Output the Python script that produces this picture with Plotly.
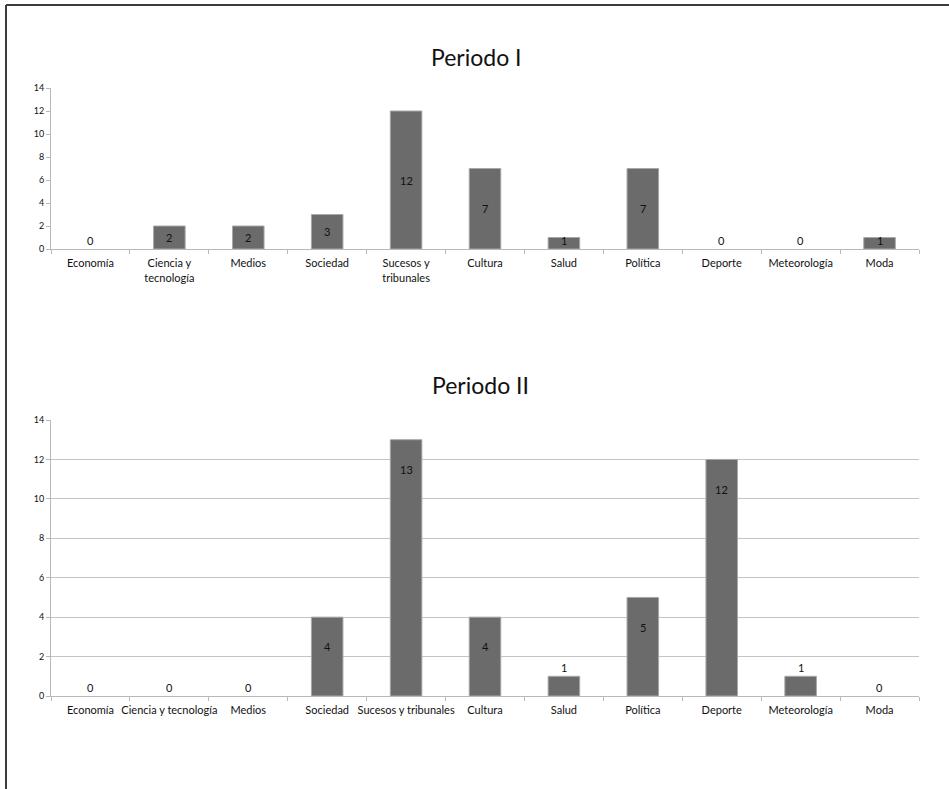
import plotly.graph_objects as go

# Categories and counts per period
categories = ["Economía", "Ciencia y tecnología", "Medios", "Sociedad",
              "Sucesos y tribunales", "Cultura", "Salud", "Política",
              "Deporte", "Meteorología", "Moda"]
labels_period_1 = ["Economía", "Ciencia y<br>tecnología", "Medios", "Sociedad",
                   "Sucesos y<br>tribunales", "Cultura", "Salud", "Política",
                   "Deporte", "Meteorología", "Moda"]
values_period_1 = [0, 2, 2, 3, 12, 7, 1, 7, 0, 0, 1]
values_period_2 = [0, 0, 0, 4, 13, 4, 1, 5, 12, 1, 0]
y_ticks = [0, 2, 4, 6, 8, 10, 12, 14]

W, H = 949, 789
FONT = "Lato"
BAR = "#6b6b6b"
AXIS = "#b8b8b8"


def bar_outline(values):
    # thin light outline only on bars that have a height
    return dict(color="#a8a8a8", width=[1 if v > 0 else 0 for v in values])


fig = go.Figure()
fig.add_trace(go.Bar(x=categories, y=values_period_1, xaxis="x", yaxis="y",
                     width=0.4, marker=dict(color=BAR, line=bar_outline(values_period_1)),
                     hoverinfo="x+y", showlegend=False))
fig.add_trace(go.Bar(x=categories, y=values_period_2, xaxis="x2", yaxis="y2",
                     width=0.4, marker=dict(color=BAR, line=bar_outline(values_period_2)),
                     hoverinfo="x+y", showlegend=False))


def px_x(p):
    return p / W


def px_y(p):
    return 1 - p / H


annotations = []
# Period I: value labels centred in the bar, small bars labelled just above the axis
for c, v in zip(categories, values_period_1):
    if v >= 2:
        annotations.append(dict(x=c, y=v / 2, xref="x", yref="y", text=str(v),
                                showarrow=False, yanchor="middle"))
    else:
        annotations.append(dict(x=c, y=0, xref="x", yref="y", text=str(v),
                                showarrow=False, yanchor="middle", yshift=9))
# Period II: labels near the top inside tall bars, above short ones
for c, v in zip(categories, values_period_2):
    if v >= 2:
        annotations.append(dict(x=c, y=v - 1.5, xref="x2", yref="y2", text=str(v),
                                showarrow=False, yanchor="middle"))
    else:
        annotations.append(dict(x=c, y=v, xref="x2", yref="y2", text=str(v),
                                showarrow=False, yanchor="middle", yshift=9))
for a in annotations:
    a["font"] = dict(family=FONT, size=11, color="#111111")

# Chart titles
annotations.append(dict(x=px_x(476), y=px_y(57), xref="paper", yref="paper",
                        text="Periodo I", showarrow=False, xanchor="center", yanchor="middle",
                        font=dict(family=FONT, size=23, color="#111111")))
annotations.append(dict(x=px_x(480), y=px_y(385), xref="paper", yref="paper",
                        text="Periodo II", showarrow=False, xanchor="center", yanchor="middle",
                        font=dict(family=FONT, size=23, color="#111111")))

xdom = [px_x(51), px_x(919)]
common_x = dict(domain=xdom, type="category", tickson="boundaries", ticks="outside",
                ticklen=4, tickcolor=AXIS, showline=True, linecolor=AXIS, linewidth=1,
                showgrid=False, tickangle=0, automargin=False, ticklabelstandoff=4,
                tickfont=dict(family=FONT, size=11, color="#111111"),
                fixedrange=True)
common_y = dict(range=[0, 14], tickvals=y_ticks, ticks="outside", ticklen=4,
                tickcolor=AXIS, showline=True, linecolor=AXIS, linewidth=1,
                zeroline=False, automargin=False,
                tickfont=dict(family=FONT, size=9, color="#111111"),
                fixedrange=True)

fig.update_layout(
    width=W, height=H,
    margin=dict(l=0, r=0, t=0, b=0),
    paper_bgcolor="white", plot_bgcolor="white",
    bargap=0.6,
    xaxis=dict(**common_x, anchor="y", tickvals=categories, ticktext=labels_period_1),
    yaxis=dict(**common_y, domain=[px_y(249), px_y(88)], anchor="x", showgrid=False),
    xaxis2=dict(**common_x, anchor="y2", tickvals=categories, ticktext=categories),
    yaxis2=dict(**common_y, domain=[px_y(696), px_y(420)], anchor="x2",
                showgrid=True, gridcolor="#c4c4c4", gridwidth=1),
    annotations=annotations,
    shapes=[
        dict(type="line", xref="paper", yref="paper", x0=px_x(6), x1=1,
             y0=px_y(5), y1=px_y(5), line=dict(color="#3c3c3c", width=2)),
        dict(type="line", xref="paper", yref="paper", x0=px_x(6), x1=px_x(6),
             y0=px_y(5), y1=0, line=dict(color="#3c3c3c", width=2)),
    ],
)

fig.write_html("out.html")
